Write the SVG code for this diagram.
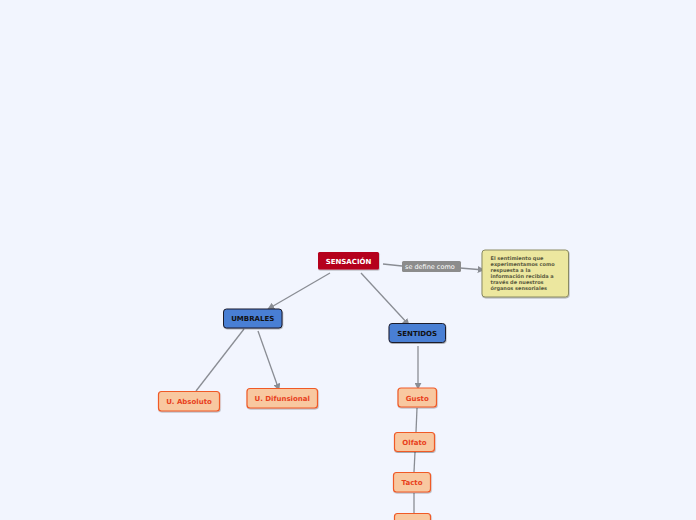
<svg xmlns="http://www.w3.org/2000/svg" width="696" height="520" viewBox="0 0 696 520">
<defs>
<marker id="arr" viewBox="0 0 10 10" refX="9" refY="5" markerWidth="7" markerHeight="7" markerUnits="userSpaceOnUse" orient="auto">
<path d="M0,0 L10,5 L0,10 z" fill="#8a8d94"/>
</marker>
<filter id="sh" x="-20%" y="-20%" width="140%" height="150%">
<feDropShadow dx="0.5" dy="1" stdDeviation="0.6" flood-color="#000" flood-opacity="0.3"/>
</filter>
</defs>
<style>
.ln{stroke:#8a8d94;stroke-width:1.3;fill:none}
.main{fill:#b5001f}
.blue{fill:#4a7fd4;stroke:#1a1a2a;stroke-width:1}
.leaf{fill:#f8c8a0;stroke:#f05a28;stroke-width:1.2}
.t{font-family:"DejaVu Sans",Verdana,sans-serif;font-weight:bold;text-anchor:middle}
.tw{fill:#ffffff;font-size:7px}
.tb{fill:#111111;font-size:7px}
.to{fill:#e8401c;font-size:7px}
.note{font-family:"DejaVu Sans",Verdana,sans-serif;font-weight:bold;font-size:5px;fill:#5a5a40}
</style>
<rect width="696" height="520" fill="#f2f5fe"/>
<g id="connectors">
<line class="ln" x1="383" y1="264" x2="402" y2="266"/>
<line class="ln" x1="460" y1="268" x2="484" y2="270" marker-end="url(#arr)"/>
<line class="ln" x1="330" y1="273" x2="268" y2="309" marker-end="url(#arr)"/>
<line class="ln" x1="361" y1="273" x2="409" y2="325" marker-end="url(#arr)"/>
<line class="ln" x1="244" y1="329" x2="196" y2="391"/>
<line class="ln" x1="258" y1="331" x2="279" y2="390" marker-end="url(#arr)"/>
<line class="ln" x1="418" y1="346" x2="418" y2="389" marker-end="url(#arr)"/>
<line class="ln" x1="417" y1="408" x2="416" y2="432"/>
<line class="ln" x1="415" y1="452" x2="414" y2="472"/>
<line class="ln" x1="414" y1="493" x2="414" y2="513"/>
</g>
<g id="label-se-define">
<rect x="402" y="261" width="59" height="11" rx="1.5" fill="#8c8c8c"/>
<text x="405" y="269" font-family="DejaVu Sans,Verdana,sans-serif" font-size="6.5" fill="#ffffff">se define como</text>
</g>
<g id="sensacion">
<rect class="main" x="318" y="252" width="61" height="17.5" rx="1.5" filter="url(#sh)"/>
<text class="t tw" x="348.5" y="263.5">SENSACIÓN</text>
</g>
<g id="definicion">
<rect x="482" y="250" width="86.5" height="47" rx="3" fill="#ece79f" stroke="#8a8a62" stroke-width="1" filter="url(#sh)"/>
<text class="note" x="490.5" y="260">El sentimiento que</text>
<text class="note" x="490.5" y="266">experimentamos como</text>
<text class="note" x="490.5" y="272">respuesta a la</text>
<text class="note" x="490.5" y="278">información recibida a</text>
<text class="note" x="490.5" y="284">través de nuestros</text>
<text class="note" x="490.5" y="290">órganos sensoriales</text>
</g>
<g id="umbrales">
<rect class="blue" x="223.5" y="309" width="58.5" height="19" rx="3" filter="url(#sh)"/>
<text class="t tb" x="252.7" y="321">UMBRALES</text>
</g>
<g id="sentidos">
<rect class="blue" x="389" y="323.5" width="56.5" height="19" rx="3" filter="url(#sh)"/>
<text class="t tb" x="417.2" y="335.5">SENTIDOS</text>
</g>
<g id="absoluto">
<rect class="leaf" x="158.5" y="391.5" width="61" height="19.5" rx="3" filter="url(#sh)"/>
<text class="t to" x="189" y="404">U. Absoluto</text>
</g>
<g id="difunsional">
<rect class="leaf" x="247" y="388.5" width="70.5" height="19.5" rx="3" filter="url(#sh)"/>
<text class="t to" x="282.2" y="401">U. Difunsional</text>
</g>
<g id="gusto">
<rect class="leaf" x="398" y="388" width="38.5" height="19" rx="3" filter="url(#sh)"/>
<text class="t to" x="417.2" y="400.5">Gusto</text>
</g>
<g id="olfato">
<rect class="leaf" x="394.5" y="432.5" width="40" height="19" rx="3" filter="url(#sh)"/>
<text class="t to" x="414.5" y="445">Olfato</text>
</g>
<g id="tacto">
<rect class="leaf" x="393.5" y="472.5" width="37" height="19.5" rx="3" filter="url(#sh)"/>
<text class="t to" x="412" y="485">Tacto</text>
</g>
<g id="oido">
<rect class="leaf" x="394.5" y="513.5" width="36" height="19" rx="3" filter="url(#sh)"/>
</g>
</svg>
